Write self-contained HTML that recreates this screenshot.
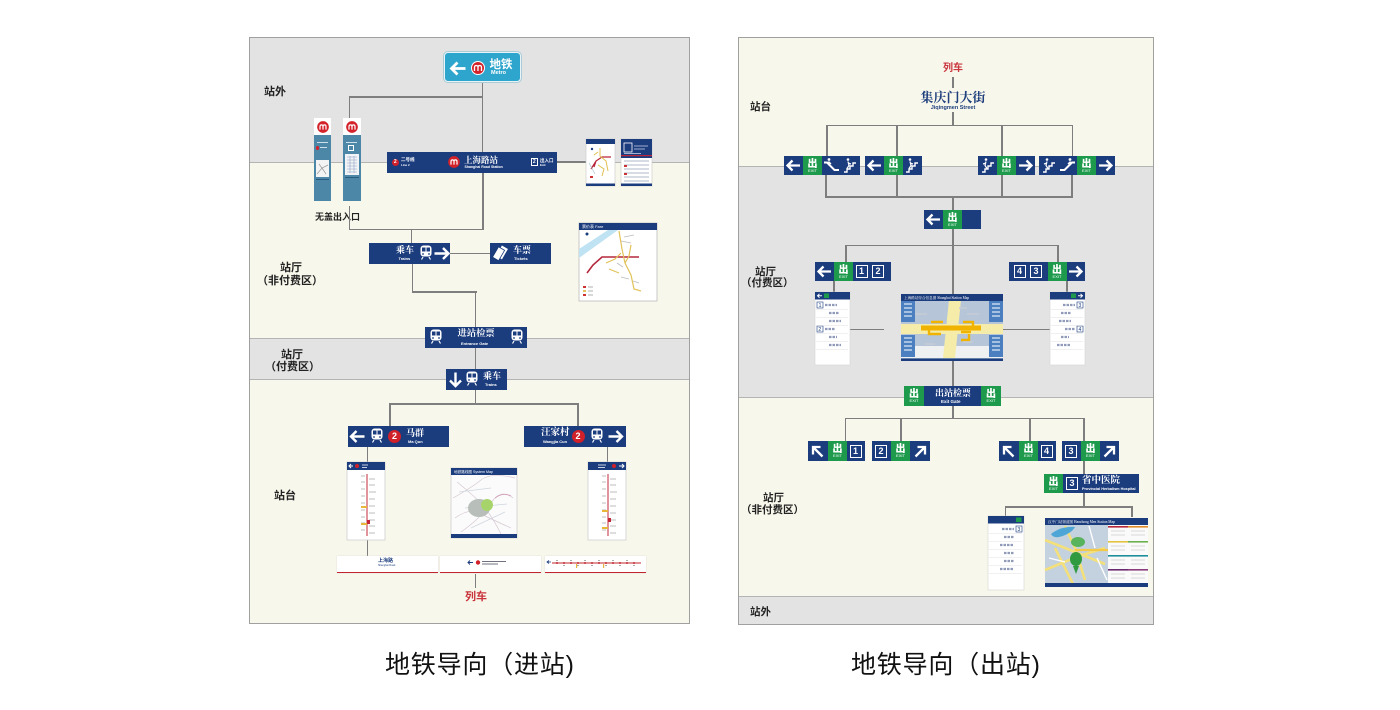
<!DOCTYPE html>
<html><head><meta charset="utf-8">
<style>
*{margin:0;padding:0;box-sizing:border-box}
body{width:1400px;height:710px;background:#fff;position:relative;overflow:hidden;font-family:"Liberation Sans","Noto Sans CJK SC",sans-serif}
.a{position:absolute}
.h{position:absolute;height:1.5px;background:#7e7e7e}
.v{position:absolute;width:1.5px;background:#7e7e7e}
.nv{position:absolute;background:#1b3c7d}
.ex{position:absolute;background:#1e9a4d;color:#fff;text-align:center;height:19px;width:19px;overflow:hidden}
.ex b{display:block;font:900 10px/10px "Noto Sans CJK SC",sans-serif;margin-top:2px}
.ex i{display:block;font:normal 4px/5px "Liberation Sans",sans-serif}
.bx{position:absolute;border:1px solid #fff;color:#fff;font:bold 9px/11px "Liberation Sans",sans-serif;width:12px;height:13px;text-align:center}
.lb{position:absolute;font:bold 11px/13px "Liberation Sans","Noto Sans CJK SC",sans-serif;color:#222;white-space:nowrap}
.rl{position:absolute;font:bold 10.5px/12px "Liberation Sans","Noto Sans CJK SC",sans-serif;color:#222;white-space:nowrap}
.zh{position:absolute;color:#fff;font-family:"Liberation Serif","Noto Serif CJK SC",serif;font-weight:bold;white-space:nowrap}
.en{position:absolute;color:#fff;font:bold 4px/5px "Liberation Sans",sans-serif;white-space:nowrap}
.cap{position:absolute;font:25px/30px "Liberation Sans","Noto Sans CJK SC",sans-serif;color:#111;white-space:nowrap;letter-spacing:0.8px}
.rc{position:absolute;border-radius:50%;background:#d0202a;color:#fff;text-align:center;font-weight:bold;font-family:"Liberation Sans",sans-serif}
svg{position:absolute;overflow:visible}
</style></head><body>

<!-- ================= LEFT PANEL ================= -->
<div class="a" style="left:249px;top:37px;width:441px;height:125px;background:#e3e3e3"></div>
<div class="a" style="left:249px;top:162px;width:441px;height:176px;background:#f8f7eb;border-top:1px solid #b4b4b4"></div>
<div class="a" style="left:249px;top:338px;width:441px;height:41px;background:#e3e3e3;border-top:1px solid #b4b4b4"></div>
<div class="a" style="left:249px;top:379px;width:441px;height:245px;background:#f8f7eb;border-top:1px solid #b4b4b4"></div>
<div class="a" style="left:249px;top:37px;width:441px;height:587px;border:1px solid #a0a0a0"></div>

<!-- labels -->
<div class="lb" style="left:264px;top:86px">站外</div>
<div class="lb" style="left:280px;top:262px">站厅</div>
<div class="lb" style="left:257px;top:275px">（非付费区）</div>
<div class="lb" style="left:281px;top:349px">站厅</div>
<div class="lb" style="left:265px;top:361px">（付费区）</div>
<div class="lb" style="left:274px;top:490px">站台</div>
<div class="a" style="left:315px;top:212px;font:bold 9px/11px 'Liberation Sans','Noto Sans CJK SC',sans-serif;color:#222;white-space:nowrap">无盖出入口</div>

<!-- lines -->
<div class="v" style="left:481.5px;top:81px;height:71px"></div>
<div class="h" style="left:348.5px;top:96px;width:134px"></div>
<div class="v" style="left:348.5px;top:96px;height:22px"></div>
<div class="v" style="left:482px;top:173px;height:57px"></div>
<div class="h" style="left:348.5px;top:228.5px;width:135px"></div>
<div class="v" style="left:348.5px;top:206px;height:24px"></div>
<div class="v" style="left:410.5px;top:229px;height:14px"></div>
<div class="h" style="left:557px;top:161px;width:29px"></div>
<div class="h" style="left:450px;top:252.5px;width:40px"></div>
<div class="v" style="left:411.5px;top:264px;height:29px"></div>
<div class="h" style="left:411.5px;top:291px;width:65px"></div>
<div class="v" style="left:474.5px;top:291px;height:36px"></div>
<div class="v" style="left:474.5px;top:348px;height:21px"></div>
<div class="v" style="left:474.5px;top:390px;height:14px"></div>
<div class="h" style="left:389px;top:403px;width:189.5px"></div>
<div class="v" style="left:389px;top:403px;height:23px"></div>
<div class="v" style="left:577px;top:403px;height:23px"></div>
<div class="v" style="left:366.5px;top:447px;height:15px"></div>
<div class="v" style="left:606.5px;top:447px;height:15px"></div>
<div class="v" style="left:366.5px;top:540px;height:16px"></div>
<div class="v" style="left:474.5px;top:574px;height:14px"></div>

<!-- Metro sign -->
<div class="a" style="left:444px;top:52px;width:77px;height:30px;background:#2ea5cc;border:1.5px solid #eaf4f7;border-radius:4px;box-shadow:0 0 0 1px #a9ccd8"></div>
<svg style="left:448px;top:59px" width="20" height="19" viewBox="0 0 20 19"><path d="M17.5 9.5H4M9.5 3.5L3.5 9.5L9.5 15.5" stroke="#fff" stroke-width="2.8" fill="none"/></svg>
<svg style="left:471px;top:61px" width="14" height="14" viewBox="0 0 14 14"><circle cx="7" cy="7" r="7" fill="#fff"/><circle cx="7" cy="7" r="6" fill="#d3222a"/><path d="M3.5 10V6.5Q3.5 4.5 5.25 4.5Q7 4.5 7 6.5V10M7 6.5Q7 4.5 8.75 4.5Q10.5 4.5 10.5 6.5V10" stroke="#fff" stroke-width="1.3" fill="none"/></svg>
<div class="a" style="left:489.5px;top:58.5px;color:#fff;font:bold 11.5px/13px 'Liberation Sans','Noto Sans CJK SC',sans-serif;white-space:nowrap">地铁</div>
<div class="a" style="left:491px;top:69.5px;color:#fff;font:bold 5.5px/6px 'Liberation Sans',sans-serif">Metro</div>

<!-- pillars -->
<div class="a" style="left:314px;top:118px;width:17px;height:17px;background:#fff"></div>
<div class="a" style="left:314px;top:135px;width:17px;height:66px;background:#4c87a8"></div>
<svg style="left:316.5px;top:120.5px" width="12" height="12" viewBox="0 0 14 14"><circle cx="7" cy="7" r="6.8" fill="#d3222a"/><path d="M3.5 10V6.5Q3.5 4.5 5.25 4.5Q7 4.5 7 6.5V10M7 6.5Q7 4.5 8.75 4.5Q10.5 4.5 10.5 6.5V10" stroke="#fff" stroke-width="1.4" fill="none"/></svg>
<div class="a" style="left:317px;top:142px;width:11px;height:1px;background:#cfe0ea"></div>
<div class="a" style="left:315.5px;top:146px;width:3.5px;height:3.5px;border-radius:50%;background:#d3222a"></div>
<div class="a" style="left:320px;top:147px;width:7px;height:1px;background:#cfe0ea"></div>
<div class="a" style="left:316px;top:160px;width:13px;height:17px;background:#f4f4f4"></div>
<svg style="left:316px;top:160px" width="13" height="17" viewBox="0 0 13 17"><path d="M1 14L6 8L12 5M6 8L10 14M3 4L8 11" stroke="#9a9a9a" stroke-width="0.7" fill="none"/></svg>
<div class="a" style="left:316px;top:179px;width:13px;height:1px;background:#2a5b80"></div>

<div class="a" style="left:343px;top:118px;width:18px;height:17px;background:#fff"></div>
<div class="a" style="left:343px;top:135px;width:18px;height:66px;background:#4c87a8"></div>
<svg style="left:346px;top:120.5px" width="12" height="12" viewBox="0 0 14 14"><circle cx="7" cy="7" r="6.8" fill="#d3222a"/><path d="M3.5 10V6.5Q3.5 4.5 5.25 4.5Q7 4.5 7 6.5V10M7 6.5Q7 4.5 8.75 4.5Q10.5 4.5 10.5 6.5V10" stroke="#fff" stroke-width="1.4" fill="none"/></svg>
<div class="a" style="left:346px;top:142px;width:11px;height:1px;background:#cfe0ea"></div>
<div class="a" style="left:348px;top:145px;width:6px;height:6px;border:1px solid #fff"></div>
<div class="a" style="left:345px;top:154px;width:14px;height:21px;background:#f1f3f6"></div>
<svg style="left:345px;top:154px" width="14" height="21" viewBox="0 0 14 21"><path d="M2 3H12M2 6H12M2 9H12M2 12H12M2 15H12M2 18H12M5 2V19M9 2V19" stroke="#8fa3c4" stroke-width="0.6" fill="none"/></svg>
<div class="a" style="left:345px;top:177px;width:14px;height:1px;background:#2a5b80"></div>

<!-- Station sign -->
<div class="nv" style="left:387px;top:152px;width:170px;height:21px"></div>
<div class="rc" style="left:391.5px;top:158.5px;width:7.5px;height:7.5px;font-size:5px;line-height:7.5px">2</div>
<div class="en" style="left:401px;top:156.5px;font-size:4.5px">二号线</div>
<div class="en" style="left:401px;top:162.5px;font-size:3px">Line 2</div>
<svg style="left:448px;top:156px" width="12" height="12" viewBox="0 0 14 14"><circle cx="7" cy="7" r="6.8" fill="#d3222a"/><path d="M3.5 10V6.5Q3.5 4.5 5.25 4.5Q7 4.5 7 6.5V10M7 6.5Q7 4.5 8.75 4.5Q10.5 4.5 10.5 6.5V10" stroke="#fff" stroke-width="1.4" fill="none"/></svg>
<div class="zh" style="left:464px;top:155px;font-size:8.5px;line-height:10px">上海路站</div>
<div class="en" style="left:464.5px;top:164.5px;font-size:3.5px;line-height:4px">Shanghai Road Station</div>
<div class="a" style="left:530.5px;top:158px;width:7.5px;height:8px;border:1px solid #fff;color:#fff;font:bold 5px/6px sans-serif;text-align:center">2</div>
<div class="en" style="left:540px;top:157.5px;font-size:4.5px">出入口</div>
<div class="en" style="left:540px;top:163px;font-size:3px">Exit</div>

<!-- top maps -->
<svg style="left:586px;top:139px" width="29" height="47" viewBox="0 0 29 47">
<rect width="29" height="47" fill="#fff" stroke="#c9c9c9" stroke-width="0.6"/>
<rect width="29" height="5" fill="#1b3c7d"/>
<rect y="44.5" width="29" height="2.5" fill="#1b3c7d"/>
<circle cx="6" cy="10" r="1.2" fill="#1b3c7d"/>
<path d="M5 30L10 22L16 18L25 18M10 22L8 28" stroke="#b8243a" stroke-width="1.2" fill="none"/>
<path d="M14 9L14 17L20 22L22 32M12 26L18 30L16 37M8 16L12 13" stroke="#e0c050" stroke-width="1" fill="none"/>
<path d="M3 24L9 35" stroke="#9bc" stroke-width="0.6"/>
<rect x="4" y="37" width="3" height="2" fill="#c33"/>
</svg>
<svg style="left:621px;top:139px" width="31" height="47" viewBox="0 0 31 47">
<rect width="31" height="47" fill="#fff" stroke="#c9c9c9" stroke-width="0.6"/>
<rect width="31" height="19" fill="#1b3c7d"/>
<rect x="3" y="4" width="8" height="9" fill="none" stroke="#fff" stroke-width="0.8"/>
<path d="M13 7H27M13 10H24M3 14.5H20" stroke="#cfd8ea" stroke-width="0.8"/>
<rect y="16" width="31" height="1.2" fill="#b8243a"/>
<path d="M3 22H28M3 26H28M3 30H28M3 34H28M3 38H28M3 42H28" stroke="#c9cfdc" stroke-width="1.4"/>
<rect x="3" y="26" width="3" height="2" fill="#c33"/>
<rect x="3" y="34" width="3" height="2" fill="#c33"/>
<rect y="44.5" width="31" height="2.5" fill="#1b3c7d"/>
</svg>

<!-- 乘车 sign -->
<div class="nv" style="left:369px;top:243px;width:81px;height:21px"></div>
<div class="zh" style="left:396px;top:245px;font-size:9px;line-height:10px">乘车</div>
<div class="en" style="left:398.5px;top:256px">Trains</div>
<svg style="left:419.5px;top:245px" width="12" height="15" viewBox="0 0 12 15"><rect x="0.5" y="0.5" width="11" height="11" rx="3" fill="#fff"/><rect x="2" y="2.5" width="3.5" height="4" fill="#1b3c7d"/><rect x="6.5" y="2.5" width="3.5" height="4" fill="#1b3c7d"/><circle cx="3" cy="9" r="0.9" fill="#1b3c7d"/><circle cx="9" cy="9" r="0.9" fill="#1b3c7d"/><path d="M3 12L1.5 14.5M9 12L10.5 14.5" stroke="#fff" stroke-width="1.2"/></svg>
<svg style="left:432px;top:244px" width="19" height="19" viewBox="0 0 19 19"><path d="M2.5 9.5H16.5M11 4L16.5 9.5L11 15" stroke="#fff" stroke-width="2.4" fill="none"/></svg>

<!-- 车票 sign -->
<div class="nv" style="left:490px;top:243px;width:61px;height:21px"></div>
<svg style="left:493px;top:245px" width="16" height="17" viewBox="0 0 16 17"><rect x="5" y="1" width="7" height="12" fill="#fff" transform="rotate(30 8 8)"/><rect x="2" y="3" width="7" height="12" fill="#fff" stroke="#1b3c7d" stroke-width="0.8" transform="rotate(30 6 9)"/></svg>
<div class="zh" style="left:513px;top:245px;font-size:9px;line-height:10px">车票</div>
<div class="en" style="left:514px;top:256px">Tickets</div>

<!-- fare map -->
<svg style="left:579px;top:223px" width="78" height="78" viewBox="0 0 78 78">
<rect width="78" height="78" fill="#fff" stroke="#bdbdbd" stroke-width="0.8"/>
<rect width="78" height="7" fill="#1b3c7d"/>
<text x="3" y="5" font-size="4" fill="#fff" font-family="Liberation Sans,Noto Sans CJK SC,sans-serif">票价表 Fare</text>
<polygon points="0,26 29,7 39,7 0,35" fill="#bfe3f3"/>
<circle cx="8" cy="11" r="1.5" fill="#1b3c7d"/>
<path d="M8 50L14 42L23 34L60 34" stroke="#b5283c" stroke-width="1.6" fill="none"/>
<path d="M40 8L43 26L46 40L52 52L55 66L62 68M27 40L36 36L42 30M30 46L40 50M46 40L50 33L52 22" stroke="#e2c25a" stroke-width="1.2" fill="none"/>
<path d="M45 14L55 12M42 18L52 20M38 40L44 44M42 54L50 56M54 58L60 60" stroke="#bbb" stroke-width="0.8"/>
<rect x="4" y="63" width="3" height="2" fill="#c33"/><rect x="4" y="67" width="3" height="2" fill="#e2c25a"/><rect x="4" y="71" width="3" height="2" fill="#c33"/>
<path d="M9 64H14M9 68H14M9 72H14" stroke="#999" stroke-width="0.8"/>
</svg>

<!-- 进站检票 -->
<div class="nv" style="left:425px;top:327px;width:102px;height:21px"></div>
<svg style="left:430px;top:329px" width="12" height="15" viewBox="0 0 12 15"><rect x="0.5" y="0.5" width="11" height="11" rx="3" fill="#fff"/><rect x="2" y="2.5" width="3.5" height="4" fill="#1b3c7d"/><rect x="6.5" y="2.5" width="3.5" height="4" fill="#1b3c7d"/><circle cx="3" cy="9" r="0.9" fill="#1b3c7d"/><circle cx="9" cy="9" r="0.9" fill="#1b3c7d"/><path d="M3 12L1.5 14.5M9 12L10.5 14.5" stroke="#fff" stroke-width="1.2"/></svg>
<div class="zh" style="left:457.5px;top:329px;font-size:9.3px;line-height:11px">进站检票</div>
<div class="en" style="left:461px;top:340.5px">Entrance Gate</div>
<svg style="left:511px;top:329px" width="12" height="15" viewBox="0 0 12 15"><rect x="0.5" y="0.5" width="11" height="11" rx="3" fill="#fff"/><rect x="2" y="2.5" width="3.5" height="4" fill="#1b3c7d"/><rect x="6.5" y="2.5" width="3.5" height="4" fill="#1b3c7d"/><circle cx="3" cy="9" r="0.9" fill="#1b3c7d"/><circle cx="9" cy="9" r="0.9" fill="#1b3c7d"/><path d="M3 12L1.5 14.5M9 12L10.5 14.5" stroke="#fff" stroke-width="1.2"/></svg>

<!-- 乘车 down -->
<div class="nv" style="left:446px;top:369px;width:61px;height:21px"></div>
<svg style="left:445.5px;top:370px" width="19" height="19" viewBox="0 0 19 19"><path d="M9.5 2.5V16M4 10.5L9.5 16L15 10.5" stroke="#fff" stroke-width="2.4" fill="none"/></svg>
<svg style="left:466px;top:371px" width="12" height="15" viewBox="0 0 12 15"><rect x="0.5" y="0.5" width="11" height="11" rx="3" fill="#fff"/><rect x="2" y="2.5" width="3.5" height="4" fill="#1b3c7d"/><rect x="6.5" y="2.5" width="3.5" height="4" fill="#1b3c7d"/><circle cx="3" cy="9" r="0.9" fill="#1b3c7d"/><circle cx="9" cy="9" r="0.9" fill="#1b3c7d"/><path d="M3 12L1.5 14.5M9 12L10.5 14.5" stroke="#fff" stroke-width="1.2"/></svg>
<div class="zh" style="left:483px;top:371px;font-size:9px;line-height:10px">乘车</div>
<div class="en" style="left:485px;top:381.5px">Trains</div>

<!-- 马群 -->
<div class="nv" style="left:348px;top:426px;width:101px;height:21px"></div>
<svg style="left:348px;top:427px" width="19" height="19" viewBox="0 0 19 19"><path d="M16.5 9.5H3M8.5 4L3 9.5L8.5 15" stroke="#fff" stroke-width="2.4" fill="none"/></svg>
<svg style="left:371px;top:428px" width="12" height="15" viewBox="0 0 12 15"><rect x="0.5" y="0.5" width="11" height="11" rx="3" fill="#fff"/><rect x="2" y="2.5" width="3.5" height="4" fill="#1b3c7d"/><rect x="6.5" y="2.5" width="3.5" height="4" fill="#1b3c7d"/><circle cx="3" cy="9" r="0.9" fill="#1b3c7d"/><circle cx="9" cy="9" r="0.9" fill="#1b3c7d"/><path d="M3 12L1.5 14.5M9 12L10.5 14.5" stroke="#fff" stroke-width="1.2"/></svg>
<div class="rc" style="left:388px;top:430px;width:13px;height:13px;font-size:9px;line-height:13px">2</div>
<div class="zh" style="left:406px;top:428px;font-size:9px;line-height:10px">马群</div>
<div class="en" style="left:408px;top:439px">Ma Qun</div>

<!-- 汪家村 -->
<div class="nv" style="left:524px;top:426px;width:102px;height:21px"></div>
<div class="zh" style="left:541px;top:427.5px;font-size:9.5px;line-height:10px">汪家村</div>
<div class="en" style="left:543px;top:439px">Wangjia Cun</div>
<div class="rc" style="left:571.5px;top:430px;width:13px;height:13px;font-size:9px;line-height:13px">2</div>
<svg style="left:590.5px;top:428px" width="12" height="15" viewBox="0 0 12 15"><rect x="0.5" y="0.5" width="11" height="11" rx="3" fill="#fff"/><rect x="2" y="2.5" width="3.5" height="4" fill="#1b3c7d"/><rect x="6.5" y="2.5" width="3.5" height="4" fill="#1b3c7d"/><circle cx="3" cy="9" r="0.9" fill="#1b3c7d"/><circle cx="9" cy="9" r="0.9" fill="#1b3c7d"/><path d="M3 12L1.5 14.5M9 12L10.5 14.5" stroke="#fff" stroke-width="1.2"/></svg>
<svg style="left:606px;top:427px" width="19" height="19" viewBox="0 0 19 19"><path d="M2.5 9.5H16M10.5 4L16 9.5L10.5 15" stroke="#fff" stroke-width="2.4" fill="none"/></svg>

<!-- strip maps -->
<svg style="left:347px;top:462px" width="38" height="78" viewBox="0 0 38 78">
<rect width="38" height="78" fill="#fff" stroke="#cfcfcf" stroke-width="0.8"/>
<rect width="38" height="8" fill="#1b3c7d"/>
<path d="M6 4H2M4 2L2 4L4 6" stroke="#fff" stroke-width="1" fill="none"/>
<circle cx="10" cy="4" r="2" fill="#d0202a"/>
<path d="M15 3H21M15 5.5H20" stroke="#fff" stroke-width="0.8"/>
<path d="M20 12V74" stroke="#c3283a" stroke-width="1"/>
<path d="M14 14H18M22 17H28M14 20H18M22 23H28M14 27H18M22 30H29M14 34H18M22 37H28M14 41H18M22 44H28M14 48H18M22 51H28M14 55H18M22 58H28M14 61H18M22 64H28M14 68H18M22 71H28" stroke="#a9a9a9" stroke-width="0.8"/>
<rect x="14" y="44" width="6" height="2" fill="#e6b73a"/><rect x="14" y="61" width="6" height="2" fill="#e6b73a"/>
<rect x="20" y="58" width="3" height="4" fill="#c3283a"/>
</svg>
<svg style="left:588px;top:462px" width="38" height="78" viewBox="0 0 38 78">
<rect width="38" height="78" fill="#fff" stroke="#cfcfcf" stroke-width="0.8"/>
<rect width="38" height="8" fill="#1b3c7d"/>
<path d="M10 3H18M10 5.5H17" stroke="#fff" stroke-width="0.8"/>
<circle cx="26" cy="4" r="2" fill="#d0202a"/>
<path d="M31 4H36M34 2L36 4L34 6" stroke="#fff" stroke-width="1" fill="none"/>
<path d="M20 12V74" stroke="#c3283a" stroke-width="1"/>
<path d="M14 14H18M22 17H28M14 20H18M22 23H28M14 27H18M22 30H29M14 34H18M22 37H28M14 41H18M22 44H28M14 48H18M22 51H28M14 55H18M22 58H28M14 61H18M22 64H28M14 68H18M22 71H28" stroke="#a9a9a9" stroke-width="0.8"/>
<rect x="14" y="48" width="6" height="2" fill="#e6b73a"/><rect x="14" y="65" width="6" height="2" fill="#e6b73a"/>
<rect x="20" y="56" width="3" height="4" fill="#c3283a"/>
</svg>

<!-- system map -->
<svg style="left:451px;top:468px" width="66" height="70" viewBox="0 0 66 70">
<rect width="66" height="70" fill="#fbfbfb" stroke="#cfcfcf" stroke-width="0.8"/>
<rect width="66" height="7" fill="#1b3c7d"/>
<text x="3" y="5" font-size="3.6" fill="#fff" font-family="Liberation Sans,Noto Sans CJK SC,sans-serif">地铁路线图 System Map</text>
<path d="M2 30Q20 20 30 12T64 10M4 50Q18 40 28 45T60 60M10 64Q30 50 40 35T62 30M6 14Q26 30 34 40T50 66" stroke="#d6c9d3" stroke-width="0.7" fill="none"/>
<path d="M8 24L40 20M20 60L54 44M14 40L56 36" stroke="#cfd6df" stroke-width="0.7"/>
<ellipse cx="28" cy="40" rx="11" ry="9" fill="#b8beb9"/>
<ellipse cx="36" cy="37" rx="6" ry="6" fill="#a6d46a"/>
<path d="M44 30Q52 24 60 28" stroke="#d19ab3" stroke-width="0.8" fill="none"/>
<rect y="66" width="66" height="4" fill="#1b3c7d"/>
</svg>

<!-- bottom train signs -->
<div class="a" style="left:337px;top:556px;width:101px;height:17px;background:#fff;border-bottom:1.5px solid #c0262e;box-shadow:0 0 1px #ccc"></div>
<div class="a" style="left:378px;top:558px;color:#1b3c7d;font:bold 5px/6px 'Liberation Sans','Noto Sans CJK SC',sans-serif;white-space:nowrap">上海路</div>
<div class="a" style="left:378px;top:564px;color:#1b3c7d;font:2.5px/3px sans-serif;white-space:nowrap">Shanghai Road</div>
<div class="a" style="left:440px;top:556px;width:101px;height:17px;background:#fff;border-bottom:1.5px solid #c0262e;box-shadow:0 0 1px #ccc"></div>
<svg style="left:466px;top:558px" width="50" height="9" viewBox="0 0 50 9"><path d="M7 4.5H2M4 2.5L2 4.5L4 6.5" stroke="#1b3c7d" stroke-width="1" fill="none"/><circle cx="12" cy="4.5" r="2.2" fill="#d0202a"/><path d="M16 3.5H40M16 6H32" stroke="#445" stroke-width="0.7"/></svg>
<div class="a" style="left:545px;top:556px;width:101px;height:17px;background:#fff;border-bottom:1.5px solid #c0262e;box-shadow:0 0 1px #ccc"></div>
<svg style="left:545px;top:556px" width="101" height="17" viewBox="0 0 101 17"><path d="M6 6H2M4 4.5L2 6L4 7.5" stroke="#1b3c7d" stroke-width="0.8" fill="none"/><path d="M7 7H96" stroke="#c0262e" stroke-width="1"/><g fill="#c0262e"><circle cx="12" cy="7" r="1"/><circle cx="19" cy="7" r="1"/><circle cx="26" cy="7" r="1"/><circle cx="33" cy="7" r="1"/><circle cx="40" cy="7" r="1"/><circle cx="47" cy="7" r="1"/><circle cx="54" cy="7" r="1"/><circle cx="61" cy="7" r="1"/><circle cx="68" cy="7" r="1"/><circle cx="75" cy="7" r="1"/><circle cx="82" cy="7" r="1"/><circle cx="89" cy="7" r="1"/></g><path d="M12 4V5M26 4V5M40 4V5M54 4V5M68 4V5M82 4V5M19 9V10M33 9V10M47 9V10M61 9V10M75 9V10M89 9V10" stroke="#888" stroke-width="1.4"/><rect x="31" y="8" width="1.2" height="4" fill="#e6b73a"/><rect x="58" y="8" width="1.2" height="4" fill="#e6b73a"/></svg>

<div class="a" style="left:465px;top:590px;color:#c9333b;font:bold 11px/14px 'Liberation Sans','Noto Sans CJK SC',sans-serif;white-space:nowrap">列车</div>

<!-- ================= RIGHT PANEL ================= -->
<div class="a" style="left:738px;top:37px;width:416px;height:129px;background:#f8f7eb"></div>
<div class="a" style="left:738px;top:166px;width:416px;height:231px;background:#e3e3e3;border-top:1px solid #b4b4b4"></div>
<div class="a" style="left:738px;top:397px;width:416px;height:199px;background:#f8f7eb;border-top:1px solid #b4b4b4"></div>
<div class="a" style="left:738px;top:596px;width:416px;height:29px;background:#e3e3e3;border-top:1px solid #b4b4b4"></div>
<div class="a" style="left:738px;top:37px;width:416px;height:588px;border:1px solid #a0a0a0"></div>

<div class="rl" style="left:750px;top:101px">站台</div>
<div class="rl" style="left:755px;top:266px">站厅</div>
<div class="rl" style="left:741px;top:277px">（付费区）</div>
<div class="rl" style="left:763px;top:492px">站厅</div>
<div class="rl" style="left:741px;top:504px">（非付费区）</div>
<div class="rl" style="left:750px;top:606px">站外</div>

<div class="a" style="left:943px;top:63px;color:#c9333b;font:bold 10px/12px 'Liberation Sans','Noto Sans CJK SC',sans-serif;white-space:nowrap">列车</div>
<div class="a" style="left:914px;top:90px;width:78px;text-align:center;color:#1f3f7d;font:bold 13px/16px 'Liberation Serif','Noto Serif CJK SC',serif;white-space:nowrap">集庆门大街</div>
<div class="a" style="left:914px;top:105px;width:78px;text-align:center;color:#1f3f7d;font:bold 5.5px/6px 'Liberation Sans',sans-serif;white-space:nowrap">Jiqingmen Street</div>

<!-- lines -->
<div class="v" style="left:952px;top:77px;height:11px"></div>
<div class="v" style="left:952px;top:112px;height:14px"></div>
<div class="h" style="left:826px;top:124.5px;width:247px"></div>
<div class="v" style="left:826px;top:124.5px;height:32px"></div>
<div class="v" style="left:896px;top:124.5px;height:32px"></div>
<div class="v" style="left:1001px;top:124.5px;height:32px"></div>
<div class="v" style="left:1071.5px;top:124.5px;height:32px"></div>
<div class="v" style="left:825px;top:175px;height:22px"></div>
<div class="v" style="left:896px;top:175px;height:22px"></div>
<div class="v" style="left:1001px;top:175px;height:22px"></div>
<div class="v" style="left:1071px;top:175px;height:22px"></div>
<div class="h" style="left:825px;top:196px;width:247.5px"></div>
<div class="v" style="left:952px;top:196px;height:14px"></div>
<div class="v" style="left:952px;top:229px;height:65px"></div>
<div class="h" style="left:845px;top:244.5px;width:213px"></div>
<div class="v" style="left:845px;top:244.5px;height:18px"></div>
<div class="v" style="left:1057px;top:244.5px;height:18px"></div>
<div class="v" style="left:833px;top:281px;height:11px"></div>
<div class="v" style="left:1066px;top:281px;height:11px"></div>
<div class="h" style="left:850px;top:328.5px;width:34px"></div>
<div class="h" style="left:1003px;top:328.5px;width:47px"></div>
<div class="v" style="left:952px;top:361px;height:25px"></div>
<div class="v" style="left:952px;top:406px;height:13px"></div>
<div class="h" style="left:844.5px;top:417.5px;width:240px"></div>
<div class="v" style="left:844.5px;top:417.5px;height:24px"></div>
<div class="v" style="left:900px;top:417.5px;height:24px"></div>
<div class="v" style="left:1029px;top:417.5px;height:24px"></div>
<div class="v" style="left:1083px;top:417.5px;height:24px"></div>
<div class="v" style="left:1083px;top:461px;height:13px"></div>
<div class="v" style="left:1083px;top:493px;height:14px"></div>
<div class="h" style="left:1004.5px;top:506px;width:128px"></div>
<div class="v" style="left:1004.5px;top:506px;height:10px"></div>
<div class="v" style="left:1131px;top:506px;height:11px"></div>

<!-- sign A -->
<div class="nv" style="left:784px;top:156px;width:76px;height:19px"></div>
<svg style="left:784px;top:156px" width="19" height="19" viewBox="0 0 19 19"><path d="M16 9.5H3.5M8.5 4.5L3.5 9.5L8.5 14.5" stroke="#fff" stroke-width="2.3" fill="none"/></svg>
<div class="ex" style="left:803px;top:156px"><b>出</b><i>EXIT</i></div>
<svg style="left:822px;top:156px" width="19" height="19" viewBox="0 0 19 19"><path d="M2 6.5h3l7.5 7.5h4.5" stroke="#fff" stroke-width="2" fill="none"/><circle cx="7" cy="3.5" r="1.4" fill="#fff"/><path d="M7 5.5v4M5 7l2-1 2 2" stroke="#fff" stroke-width="1.3" fill="none"/></svg>
<svg style="left:841px;top:156px" width="19" height="19" viewBox="0 0 19 19"><path d="M3 16h3v-3h3v-3h3v-3h3" stroke="#fff" stroke-width="1.4" fill="none"/><circle cx="7" cy="3.5" r="1.3" fill="#fff"/><path d="M7 5.5l1 4-2 3M7 7l3 1" stroke="#fff" stroke-width="1.2" fill="none"/></svg>
<!-- sign B -->
<div class="nv" style="left:865px;top:156px;width:57px;height:19px"></div>
<svg style="left:865px;top:156px" width="19" height="19" viewBox="0 0 19 19"><path d="M16 9.5H3.5M8.5 4.5L3.5 9.5L8.5 14.5" stroke="#fff" stroke-width="2.3" fill="none"/></svg>
<div class="ex" style="left:884px;top:156px"><b>出</b><i>EXIT</i></div>
<svg style="left:903px;top:156px" width="19" height="19" viewBox="0 0 19 19"><path d="M3 16h3v-3h3v-3h3v-3h3" stroke="#fff" stroke-width="1.4" fill="none"/><circle cx="7" cy="3.5" r="1.3" fill="#fff"/><path d="M7 5.5l1 4-2 3M7 7l3 1" stroke="#fff" stroke-width="1.2" fill="none"/></svg>
<!-- sign C -->
<div class="nv" style="left:978px;top:156px;width:57px;height:19px"></div>
<svg style="left:978px;top:156px" width="19" height="19" viewBox="0 0 19 19"><path d="M4 16h3v-3h3v-3h3v-3h3" stroke="#fff" stroke-width="1.4" fill="none"/><circle cx="8" cy="3.5" r="1.3" fill="#fff"/><path d="M8 5.5l-1 4 2 3M8 7l-3 1" stroke="#fff" stroke-width="1.2" fill="none"/></svg>
<div class="ex" style="left:997px;top:156px"><b>出</b><i>EXIT</i></div>
<svg style="left:1016px;top:156px" width="19" height="19" viewBox="0 0 19 19"><path d="M3 9.5H15.5M10.5 4.5L15.5 9.5L10.5 14.5" stroke="#fff" stroke-width="2.3" fill="none"/></svg>
<!-- sign D -->
<div class="nv" style="left:1039px;top:156px;width:76px;height:19px"></div>
<svg style="left:1039px;top:156px" width="19" height="19" viewBox="0 0 19 19"><path d="M4 16h3v-3h3v-3h3v-3h3" stroke="#fff" stroke-width="1.4" fill="none"/><circle cx="8" cy="3.5" r="1.3" fill="#fff"/><path d="M8 5.5l-1 4 2 3M8 7l-3 1" stroke="#fff" stroke-width="1.2" fill="none"/></svg>
<svg style="left:1058px;top:156px" width="19" height="19" viewBox="0 0 19 19"><path d="M2 14h4.5l7.5-7.5h3" stroke="#fff" stroke-width="2" fill="none"/><circle cx="12" cy="3.5" r="1.4" fill="#fff"/><path d="M12 5.5v4M14 7l-2-1-2 2" stroke="#fff" stroke-width="1.3" fill="none"/></svg>
<div class="ex" style="left:1077px;top:156px"><b>出</b><i>EXIT</i></div>
<svg style="left:1096px;top:156px" width="19" height="19" viewBox="0 0 19 19"><path d="M3 9.5H15.5M10.5 4.5L15.5 9.5L10.5 14.5" stroke="#fff" stroke-width="2.3" fill="none"/></svg>

<!-- sign E -->
<div class="nv" style="left:924px;top:210px;width:57px;height:19px"></div>
<svg style="left:924px;top:210px" width="19" height="19" viewBox="0 0 19 19"><path d="M16 9.5H3.5M8.5 4.5L3.5 9.5L8.5 14.5" stroke="#fff" stroke-width="2.3" fill="none"/></svg>
<div class="ex" style="left:943px;top:210px"><b>出</b><i>EXIT</i></div>

<!-- sign F -->
<div class="nv" style="left:815px;top:262px;width:76px;height:19px"></div>
<svg style="left:815px;top:262px" width="19" height="19" viewBox="0 0 19 19"><path d="M16 9.5H3.5M8.5 4.5L3.5 9.5L8.5 14.5" stroke="#fff" stroke-width="2.3" fill="none"/></svg>
<div class="ex" style="left:834px;top:262px"><b>出</b><i>EXIT</i></div>
<div class="bx" style="left:855.5px;top:265px">1</div>
<div class="bx" style="left:872px;top:265px">2</div>
<!-- sign G -->
<div class="nv" style="left:1009px;top:262px;width:76px;height:19px"></div>
<div class="bx" style="left:1013.5px;top:265px">4</div>
<div class="bx" style="left:1030px;top:265px">3</div>
<div class="ex" style="left:1047.5px;top:262px"><b>出</b><i>EXIT</i></div>
<svg style="left:1066px;top:262px" width="19" height="19" viewBox="0 0 19 19"><path d="M3 9.5H15.5M10.5 4.5L15.5 9.5L10.5 14.5" stroke="#fff" stroke-width="2.3" fill="none"/></svg>

<!-- small panels -->
<svg style="left:815px;top:292px" width="35" height="73" viewBox="0 0 35 73">
<rect width="35" height="73" fill="#fff" stroke="#d6d6d6" stroke-width="0.6"/>
<rect width="35" height="7.5" fill="#1b3c7d"/>
<path d="M7 3.75H2.5M4.5 1.8L2.5 3.75L4.5 5.7" stroke="#fff" stroke-width="1" fill="none"/>
<rect x="9" y="1.5" width="5" height="4.5" fill="#1e9a4d"/>
<rect x="2" y="10" width="6" height="6" fill="none" stroke="#1b3c7d" stroke-width="0.6"/>
<text x="3.6" y="15" font-size="5" fill="#1b3c7d" font-family="Liberation Sans,sans-serif">1</text>
<rect x="2" y="34" width="6" height="6" fill="none" stroke="#1b3c7d" stroke-width="0.6"/>
<text x="3.4" y="39" font-size="5" fill="#1b3c7d" font-family="Liberation Sans,sans-serif">2</text>
<path d="M10 13H22M14 21H24M14 29H26M10 37H20M14 45H22M14 53H26" stroke="#8f9bb8" stroke-width="2.2" stroke-dasharray="2.5 1"/>
<path d="M1 17.5H33M1 25.5H33M1 33.5H33M1 41.5H33M1 49.5H33M1 57.5H33" stroke="#e2e2e2" stroke-width="0.5"/>
</svg>
<svg style="left:1050px;top:292px" width="35" height="73" viewBox="0 0 35 73">
<rect width="35" height="73" fill="#fff" stroke="#d6d6d6" stroke-width="0.6"/>
<rect width="35" height="7.5" fill="#1b3c7d"/>
<rect x="21" y="1.5" width="5" height="4.5" fill="#1e9a4d"/>
<path d="M28 3.75H32.5M30.5 1.8L32.5 3.75L30.5 5.7" stroke="#fff" stroke-width="1" fill="none"/>
<rect x="27" y="10" width="6" height="6" fill="none" stroke="#1b3c7d" stroke-width="0.6"/>
<text x="28.5" y="15" font-size="5" fill="#1b3c7d" font-family="Liberation Sans,sans-serif">3</text>
<rect x="27" y="34" width="6" height="6" fill="none" stroke="#1b3c7d" stroke-width="0.6"/>
<text x="28.5" y="39" font-size="5" fill="#1b3c7d" font-family="Liberation Sans,sans-serif">4</text>
<path d="M13 13H25M11 21H21M9 29H21M15 37H25M11 45H19M7 53H21" stroke="#8f9bb8" stroke-width="2.2" stroke-dasharray="2.5 1"/>
<path d="M1 17.5H33M1 25.5H33M1 33.5H33M1 41.5H33M1 49.5H33M1 57.5H33" stroke="#e2e2e2" stroke-width="0.5"/>
</svg>

<!-- station map -->
<svg style="left:901px;top:294px" width="102" height="67" viewBox="0 0 102 67">
<rect width="102" height="67" fill="#b6c6d8"/>
<rect y="52" width="102" height="12" fill="#eef0f2"/>
<polygon points="30,52 60,56 62,64 30,64" fill="#eef0f2"/>
<rect y="30" width="102" height="10" fill="#f6ecaa"/>
<polygon points="48,6 60,6 54,64 42,64" fill="#f6ecaa"/>
<path d="M20 34H80" stroke="#f0b300" stroke-width="5"/>
<path d="M30 28H42M28 34V40H40M62 28H72V34M70 38H60M68 40V46H60" stroke="#f0b300" stroke-width="2.4" fill="none"/>
<path d="M12 20H26M66 20H78M24 50H34M62 48H72M58 14H66" stroke="#c5ccd6" stroke-width="1.6"/>
<rect x="0" y="7" width="14" height="21" fill="#4b7fbf"/>
<rect x="0" y="41" width="14" height="22" fill="#4b7fbf"/>
<rect x="88" y="7" width="14" height="21" fill="#4b7fbf"/>
<rect x="88" y="41" width="14" height="22" fill="#4b7fbf"/>
<path d="M3 10H11M3 14H11M3 18H11M3 22H11M3 44H11M3 48H11M3 52H11M3 56H11M91 10H99M91 14H99M91 18H99M91 22H99M91 44H99M91 48H99M91 52H99M91 56H99" stroke="#dbe6f5" stroke-width="1.3"/>
<rect width="102" height="7" fill="#1b3c7d"/>
<text x="3" y="5" font-size="3.6" fill="#fff" font-family="Liberation Serif,Noto Serif CJK SC,serif">上海路站综合信息图  Shanghai Station Map</text>
<rect y="64.5" width="102" height="2.5" fill="#1b3c7d"/>
</svg>

<!-- exit gate -->
<div class="ex" style="left:904px;top:386px;width:20px;height:20px"><b>出</b><i>EXIT</i></div>
<div class="nv" style="left:924px;top:386px;width:57px;height:20px"></div>
<div class="zh" style="left:935px;top:387.5px;font-size:9px;line-height:11px">出站检票</div>
<div class="en" style="left:941px;top:398.5px;font-size:4.5px">Exit Gate</div>
<div class="ex" style="left:981px;top:386px;width:20px;height:20px"><b>出</b><i>EXIT</i></div>

<!-- row H I J K -->
<div class="nv" style="left:808px;top:441px;width:57px;height:20px"></div>
<svg style="left:808px;top:441.5px" width="19" height="19" viewBox="0 0 19 19"><path d="M14.5 14.5L5 5M5 12.5V5H12.5" stroke="#fff" stroke-width="2.3" fill="none"/></svg>
<div class="ex" style="left:828px;top:441px;height:20px"><b>出</b><i>EXIT</i></div>
<div class="bx" style="left:849.5px;top:444.5px">1</div>

<div class="nv" style="left:872px;top:441px;width:58px;height:20px"></div>
<div class="bx" style="left:875px;top:444.5px">2</div>
<div class="ex" style="left:891px;top:441px;height:20px"><b>出</b><i>EXIT</i></div>
<svg style="left:910.5px;top:441.5px" width="19" height="19" viewBox="0 0 19 19"><path d="M4.5 14.5L14 5M6.5 5H14V12.5" stroke="#fff" stroke-width="2.3" fill="none"/></svg>

<div class="nv" style="left:999px;top:441px;width:57px;height:20px"></div>
<svg style="left:999px;top:441.5px" width="19" height="19" viewBox="0 0 19 19"><path d="M14.5 14.5L5 5M5 12.5V5H12.5" stroke="#fff" stroke-width="2.3" fill="none"/></svg>
<div class="ex" style="left:1019px;top:441px;height:20px"><b>出</b><i>EXIT</i></div>
<div class="bx" style="left:1040.5px;top:444.5px">4</div>

<div class="nv" style="left:1062px;top:441px;width:57px;height:20px"></div>
<div class="bx" style="left:1065px;top:444.5px">3</div>
<div class="ex" style="left:1081px;top:441px;height:20px"><b>出</b><i>EXIT</i></div>
<svg style="left:1100px;top:441.5px" width="19" height="19" viewBox="0 0 19 19"><path d="M4.5 14.5L14 5M6.5 5H14V12.5" stroke="#fff" stroke-width="2.3" fill="none"/></svg>

<!-- sign L -->
<div class="ex" style="left:1044px;top:474px"><b>出</b><i>EXIT</i></div>
<div class="nv" style="left:1063px;top:474px;width:76px;height:19px"></div>
<div class="bx" style="left:1066px;top:477px">3</div>
<div class="zh" style="left:1082px;top:475.5px;font-size:9.5px;line-height:10px">省中医院</div>
<div class="en" style="left:1082px;top:486.5px;font-size:3.8px">Provincial Herbalism Hospital</div>

<!-- bottom small panel -->
<svg style="left:988px;top:516px" width="36" height="74" viewBox="0 0 36 74">
<rect width="36" height="74" fill="#fff" stroke="#d6d6d6" stroke-width="0.6"/>
<rect width="36" height="7.5" fill="#1b3c7d"/>
<rect x="28" y="1.5" width="5.5" height="4.5" fill="#1e9a4d"/>
<rect x="28" y="10" width="6" height="6" fill="none" stroke="#1b3c7d" stroke-width="0.6"/>
<text x="29.5" y="15" font-size="5" fill="#1b3c7d" font-family="Liberation Sans,sans-serif">3</text>
<path d="M14 13H26M16 21H26M12 29H26M16 37H26M16 45H26M12 53H26" stroke="#8f9bb8" stroke-width="2.2" stroke-dasharray="2.5 1"/>
<path d="M1 17.5H34M1 25.5H34M1 33.5H34M1 41.5H34M1 49.5H34M1 57.5H34" stroke="#e2e2e2" stroke-width="0.5"/>
</svg>

<!-- big map -->
<svg style="left:1045px;top:518px" width="103" height="69" viewBox="0 0 103 69">
<rect width="103" height="69" fill="#c4d1de"/>
<path d="M0 22L60 46M0 52L34 38L60 30M20 8L30 30L40 62M10 30L28 66" stroke="#f3e07a" stroke-width="2.6" fill="none"/>
<path d="M30 32H64" stroke="#f3c94a" stroke-width="2.2"/>
<path d="M44 8L50 30M52 40L62 62M4 40L20 44" stroke="#ffffff" stroke-width="1.4" fill="none"/>
<path d="M6 16Q16 8 30 9Q26 16 14 19Q8 20 6 16Z" fill="#4da6d6"/>
<ellipse cx="33" cy="24" rx="7" ry="5" fill="#58b35d"/>
<ellipse cx="31" cy="41" rx="6" ry="7" fill="#2f9a3f"/>
<polygon points="28,48 34,48 31,56" fill="#2f9a3f"/>
<rect x="63" y="7" width="40" height="58" fill="#fafafa"/>
<rect x="63" y="8" width="20" height="1.6" fill="#b5283c"/><rect x="83" y="8" width="20" height="1.6" fill="#e08a2a"/>
<rect x="63" y="23" width="20" height="1.6" fill="#e2c440"/><rect x="83" y="23" width="20" height="1.6" fill="#6ab04c"/>
<rect x="63" y="37" width="40" height="1.6" fill="#1e8e9a"/>
<rect x="63" y="51" width="20" height="1.6" fill="#6a2b6e"/><rect x="83" y="51" width="20" height="1.6" fill="#8a3c7c"/>
<path d="M66 13H80M86 13H100M66 17H80M86 17H100M66 28H80M86 28H100M66 32H80M86 32H100M66 42H80M86 42H100M66 46H80M86 46H100M66 56H80M86 56H100M66 60H80M86 60H100" stroke="#d8d8d8" stroke-width="1"/>
<rect width="103" height="7" fill="#1b3c7d"/>
<text x="3" y="5" font-size="3.6" fill="#fff" font-family="Liberation Serif,Noto Serif CJK SC,serif">汉中门站街道图  Hanzhong Men Station Map</text>
<rect y="65" width="103" height="4" fill="#1b3c7d"/>
</svg>

<!-- captions -->
<div class="cap" style="left:385px;top:650px">地铁导向（进站)</div>
<div class="cap" style="left:851px;top:650px">地铁导向（出站)</div>

</body></html>
